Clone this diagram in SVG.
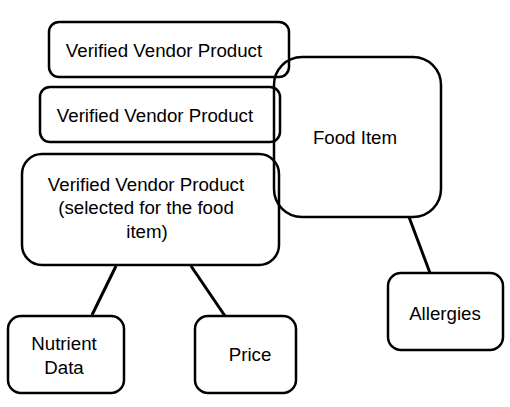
<svg xmlns="http://www.w3.org/2000/svg" width="510" height="407" viewBox="0 0 510 407">
<style>
.box{fill:none;stroke:#000;stroke-width:2.5}
.lbl{font-family:"Liberation Sans",Arial,sans-serif;font-size:18.7px;fill:#000;text-anchor:middle}
.con{stroke:#000;stroke-width:3;fill:none}
</style>
<rect width="510" height="407" fill="#fff"/>
<g id="connectors">
<line class="con" x1="116" y1="266" x2="92" y2="315"/>
<line class="con" x1="191" y1="266" x2="225" y2="316"/>
<line class="con" x1="409" y1="217" x2="430" y2="273"/>
</g>
<g id="vvp1">
<rect class="box" x="49" y="22" width="240" height="55" rx="10"/>
<text class="lbl" x="164" y="57">Verified Vendor Product</text>
</g>
<g id="vvp2">
<rect class="box" x="40" y="87" width="240" height="55" rx="10"/>
<text class="lbl" x="155" y="122">Verified Vendor Product</text>
</g>
<g id="vvp3">
<rect class="box" x="22" y="154" width="257" height="111" rx="20"/>
<text class="lbl" x="146" y="191">Verified Vendor Product</text>
<text class="lbl" x="146" y="214">(selected for the food</text>
<text class="lbl" x="147" y="238">item)</text>
</g>
<g id="food-item">
<rect class="box" x="274" y="57" width="167" height="160" rx="28"/>
<text class="lbl" x="355" y="144">Food Item</text>
</g>
<g id="allergies">
<rect class="box" x="388" y="273" width="115" height="77" rx="13"/>
<text class="lbl" x="445" y="320">Allergies</text>
</g>
<g id="nutrient-data">
<rect class="box" x="8" y="316" width="116" height="77" rx="13"/>
<text class="lbl" x="64" y="350">Nutrient</text>
<text class="lbl" x="64" y="374">Data</text>
</g>
<g id="price">
<rect class="box" x="195" y="316" width="101" height="77" rx="13"/>
<text class="lbl" x="250" y="361">Price</text>
</g>
</svg>
